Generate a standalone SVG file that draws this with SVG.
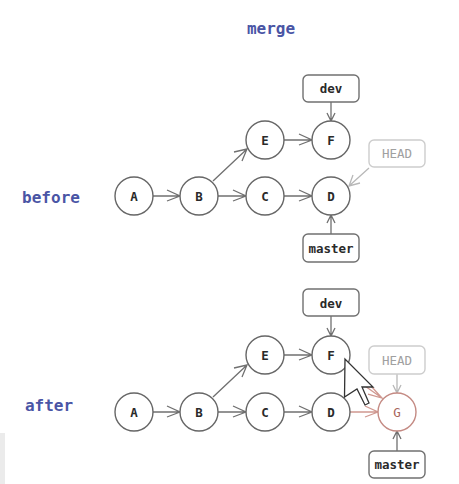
<svg xmlns="http://www.w3.org/2000/svg" width="459" height="484" viewBox="0 0 459 484">
<style>
.n{fill:#fff;stroke:#666;stroke-width:1.4}
.b{fill:#fff;stroke:#707070;stroke-width:1.4}
.g{fill:#fff;stroke:#cdcdcd;stroke-width:1.4}
.r{fill:#fff;stroke:#c48a83;stroke-width:1.4}
.t{font:bold 12.500px "DejaVu Sans Mono",monospace;fill:#2a2a2a;text-anchor:middle}
.tg{fill:#a0a0a0;font-weight:normal}
.tr{fill:#a8645c;font-weight:normal}
.h{font:bold 16px "DejaVu Sans Mono",monospace;fill:#4a55a5;text-anchor:middle}
.c{fill:none;stroke:#707070;stroke-width:1.3}
.cg{fill:none;stroke:#b8b8b8;stroke-width:1.3}
.cr{fill:none;stroke:#d09890;stroke-width:1.3}
</style>
<rect x="0" y="433" width="5" height="51" fill="#ebebeb"/>
<text class="h" x="271" y="34">merge</text>
<text class="h" x="51" y="203">before</text>
<text class="h" x="49" y="411">after</text>
<g id="connectors">
<path class="c" d="M153 196H180M167 190L180 196L167 201"/>
<path class="c" d="M218 196H246M233 190L246 196L233 201"/>
<path class="c" d="M284 196H312M299 190L312 196L299 201"/>
<path class="c" d="M213 181L247 149M234 152L247 149L242 161"/>
<path class="c" d="M284 140H312M299 134L312 140L299 145"/>
<path class="c" d="M331 102V121M327 113L331 121L335 113"/>
<path class="c" d="M331 234V215M327 223L331 215L335 223"/>
<path class="cg" d="M369 168L349 186M353 175L349 186L360 183"/>
<path class="c" d="M153 412H180M167 406L180 412L167 417"/>
<path class="c" d="M218 412H246M233 406L246 412L233 417"/>
<path class="c" d="M284 412H312M299 406L312 412L299 417"/>
<path class="c" d="M213 397L247 365M234 368L247 365L242 377"/>
<path class="c" d="M284 355H312M299 349L312 355L299 360"/>
<path class="c" d="M331 316V336M327 328L331 336L335 328"/>
<path class="cr" d="M350 412H378M365 406L378 412L365 417"/>
<path class="cr" d="M345 372L382 398M371 386L382 398L368 394"/>
<path class="cg" d="M397 374V393M393 385L397 393L401 385"/>
<path class="c" d="M397 451V431M393 439L397 431L401 439"/>
</g>
<g id="A1"><circle class="n" cx="134" cy="196" r="19"/><text class="t" x="134" y="201">A</text></g>
<g id="B1"><circle class="n" cx="199" cy="196" r="19"/><text class="t" x="199" y="201">B</text></g>
<g id="C1"><circle class="n" cx="265" cy="196" r="19"/><text class="t" x="265" y="201">C</text></g>
<g id="D1"><circle class="n" cx="331" cy="196" r="19"/><text class="t" x="331" y="201">D</text></g>
<g id="E1"><circle class="n" cx="265" cy="140" r="19"/><text class="t" x="265" y="145">E</text></g>
<g id="F1"><circle class="n" cx="331" cy="140" r="19"/><text class="t" x="331" y="145">F</text></g>
<g id="dev1"><rect class="b" x="303" y="75" width="56" height="27" rx="5"/><text class="t" x="331" y="93">dev</text></g>
<g id="head1"><rect class="g" x="369" y="140" width="56" height="27" rx="5"/><text class="t tg" x="397" y="158">HEAD</text></g>
<g id="master1"><rect class="b" x="303" y="234" width="56" height="28" rx="5"/><text class="t" x="331" y="253">master</text></g>
<g id="A2"><circle class="n" cx="134" cy="412" r="19"/><text class="t" x="134" y="417">A</text></g>
<g id="B2"><circle class="n" cx="199" cy="412" r="19"/><text class="t" x="199" y="417">B</text></g>
<g id="C2"><circle class="n" cx="265" cy="412" r="19"/><text class="t" x="265" y="417">C</text></g>
<g id="D2"><circle class="n" cx="331" cy="412" r="19"/><text class="t" x="331" y="417">D</text></g>
<g id="E2"><circle class="n" cx="265" cy="355" r="19"/><text class="t" x="265" y="360">E</text></g>
<g id="F2"><circle class="n" cx="331" cy="355" r="19"/><text class="t" x="331" y="360">F</text></g>
<g id="G2"><circle class="r" cx="397" cy="412" r="19"/><text class="t tr" x="397" y="417">G</text></g>
<g id="dev2"><rect class="b" x="303" y="289" width="56" height="27" rx="5"/><text class="t" x="331" y="308">dev</text></g>
<g id="head2"><rect class="g" x="369" y="346" width="56" height="28" rx="5"/><text class="t tg" x="397" y="365">HEAD</text></g>
<g id="master2"><rect class="b" x="369" y="451" width="56" height="27" rx="5"/><text class="t" x="397" y="469">master</text></g>
<path d="M345 359L344.500 397L357 389L365 405L369 403L362 387L373 387Z" fill="#fff" stroke="#333" stroke-width="1.300"/>
</svg>
